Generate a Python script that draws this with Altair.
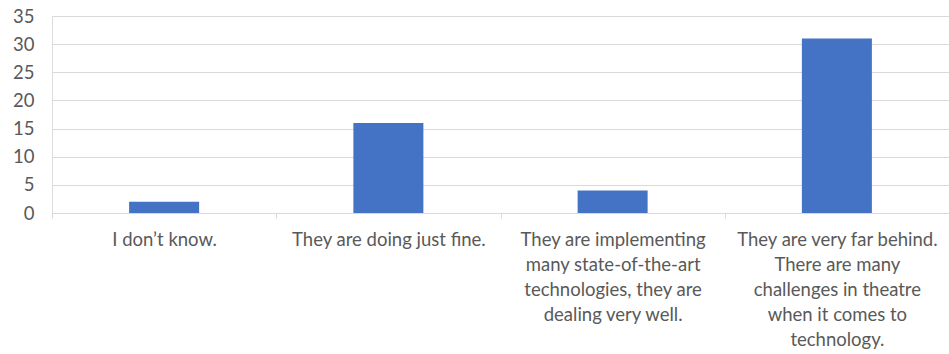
import altair as alt
import pandas as pd

categories = [
    "I don’t know.",
    "They are doing just fine.",
    "They are implementing|many state-of-the-art|technologies, they are|dealing very well.",
    "They are very far behind.|There are many|challenges in theatre|when it comes to|technology.",
]
values = [2, 16, 4, 31]

df = pd.DataFrame({"category": categories, "value": values})

FONT = "Lato"
GRAY = "#595959"
GRID = "#d9d9d9"

chart = (
    alt.Chart(df)
    .mark_bar(color="#4472C4", size=70)
    .encode(
        x=alt.X(
            "category:N",
            sort=categories,
            scale=alt.Scale(paddingInner=0, paddingOuter=0),
            axis=alt.Axis(
                title=None,
                labelAngle=0,
                labelExpr="split(datum.label, '|')",
                labelBaseline="top",
                labelLineHeight=25,
                labelPadding=12,
                labelFont=FONT,
                labelFontSize=18.5,
                labelColor=GRAY,
                labelLimit=300,
                domainColor=GRID,
                tickColor=GRID,
                tickBand="extent",
                tickSize=5,
                grid=False,
            ),
        ),
        y=alt.Y(
            "value:Q",
            scale=alt.Scale(domain=[0, 35]),
            axis=alt.Axis(
                title=None,
                values=[0, 5, 10, 15, 20, 25, 30, 35],
                labelFont=FONT,
                labelFontSize=18.5,
                labelColor=GRAY,
                labelPadding=18,
                domain=False,
                ticks=False,
                gridColor=GRID,
                gridWidth=1,
            ),
        ),
    )
    .properties(
        width=897,
        height=197,
        padding={"left": 52, "top": 16, "right": 0, "bottom": 141},
        autosize=alt.AutoSizeParams(type="none"),
    )
    .configure_view(stroke=None)
    .configure(background="white")
)

chart.save("out.html", embed_options={"renderer": "svg", "actions": False})
